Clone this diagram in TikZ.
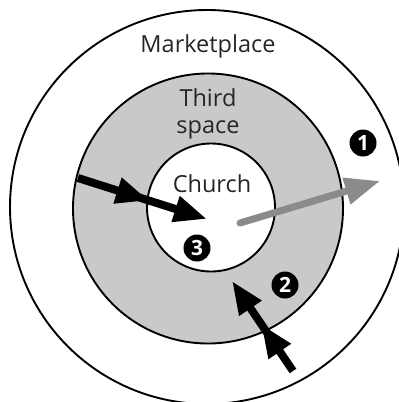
\documentclass[tikz,border=0pt]{standalone}
\usepackage{fontspec}
\setmainfont{Open Sans}
\usepackage{tikz}
\usetikzlibrary{arrows.meta,decorations.markings}
\definecolor{ringgrey}{RGB}{200,201,203}
\definecolor{outgrey}{RGB}{138,139,141}
\tikzset{
  ring/.style={circle, draw=black, line width=1.9pt, inner sep=0pt},
  ringlabel/.style={font=\fontsize{23.5}{27}\selectfont, align=center, text=black!85},
  numdot/.style={circle, fill=black, text=white, inner sep=0pt, minimum size=27pt,
                 font=\fontsize{21}{21}\selectfont\bfseries},
  outarrow/.style={outgrey, line width=7pt, line cap=round,
                   -{Triangle[length=35pt,width=26pt]}},
  inarrow/.style={black, line width=8pt,
                  -{Triangle[length=33pt,width=25pt]},
                  postaction={decorate},
                  decoration={markings, mark=at position #1 with
                    {\arrow{Triangle[length=33pt,width=25pt]}}}},
}
\begin{document}
\begin{tikzpicture}[x=1pt,y=-1pt]
  \useasboundingbox (0,0) rectangle (399,402);
  \clip (0,0) rectangle (399,402);
  % --- Kreise ---
  \node[ring, minimum size=394pt] (market) at (207,207) {};
  \node[ring, fill=ringgrey, minimum size=270pt] (third) at (208,208.5) {};
  \node[ring, fill=white, minimum size=128pt] (church) at (211,207.5) {};
  % --- Beschriftungen ---
  \node[ringlabel] (marketlbl) at (208,46) {Marketplace};
  \node[ringlabel] (thirdlbl) at (208,114) {Third\\space};
  \node[ringlabel] (churchlbl) at (212,184) {Church};
  % --- Pfeile ---
  \coordinate (outstart) at (240,223);
  \coordinate (outtip) at (380,181);
  \draw[outarrow] (outstart) -- (outtip);
  \coordinate (leftstart) at (78,178);
  \coordinate (lefttip) at (207,219);
  \draw[inarrow=0.55] (leftstart) -- (lefttip);
  \coordinate (lowstart) at (293,371);
  \coordinate (lowtip) at (232,281);
  \draw[inarrow=0.52] (lowstart) -- (lowtip);
  % --- Nummern ---
  \node[numdot] (one) at (363,143) {1};
  \node[numdot] (two) at (285,285) {2};
  \node[numdot] (three) at (197,248) {3};
\end{tikzpicture}
\end{document}
